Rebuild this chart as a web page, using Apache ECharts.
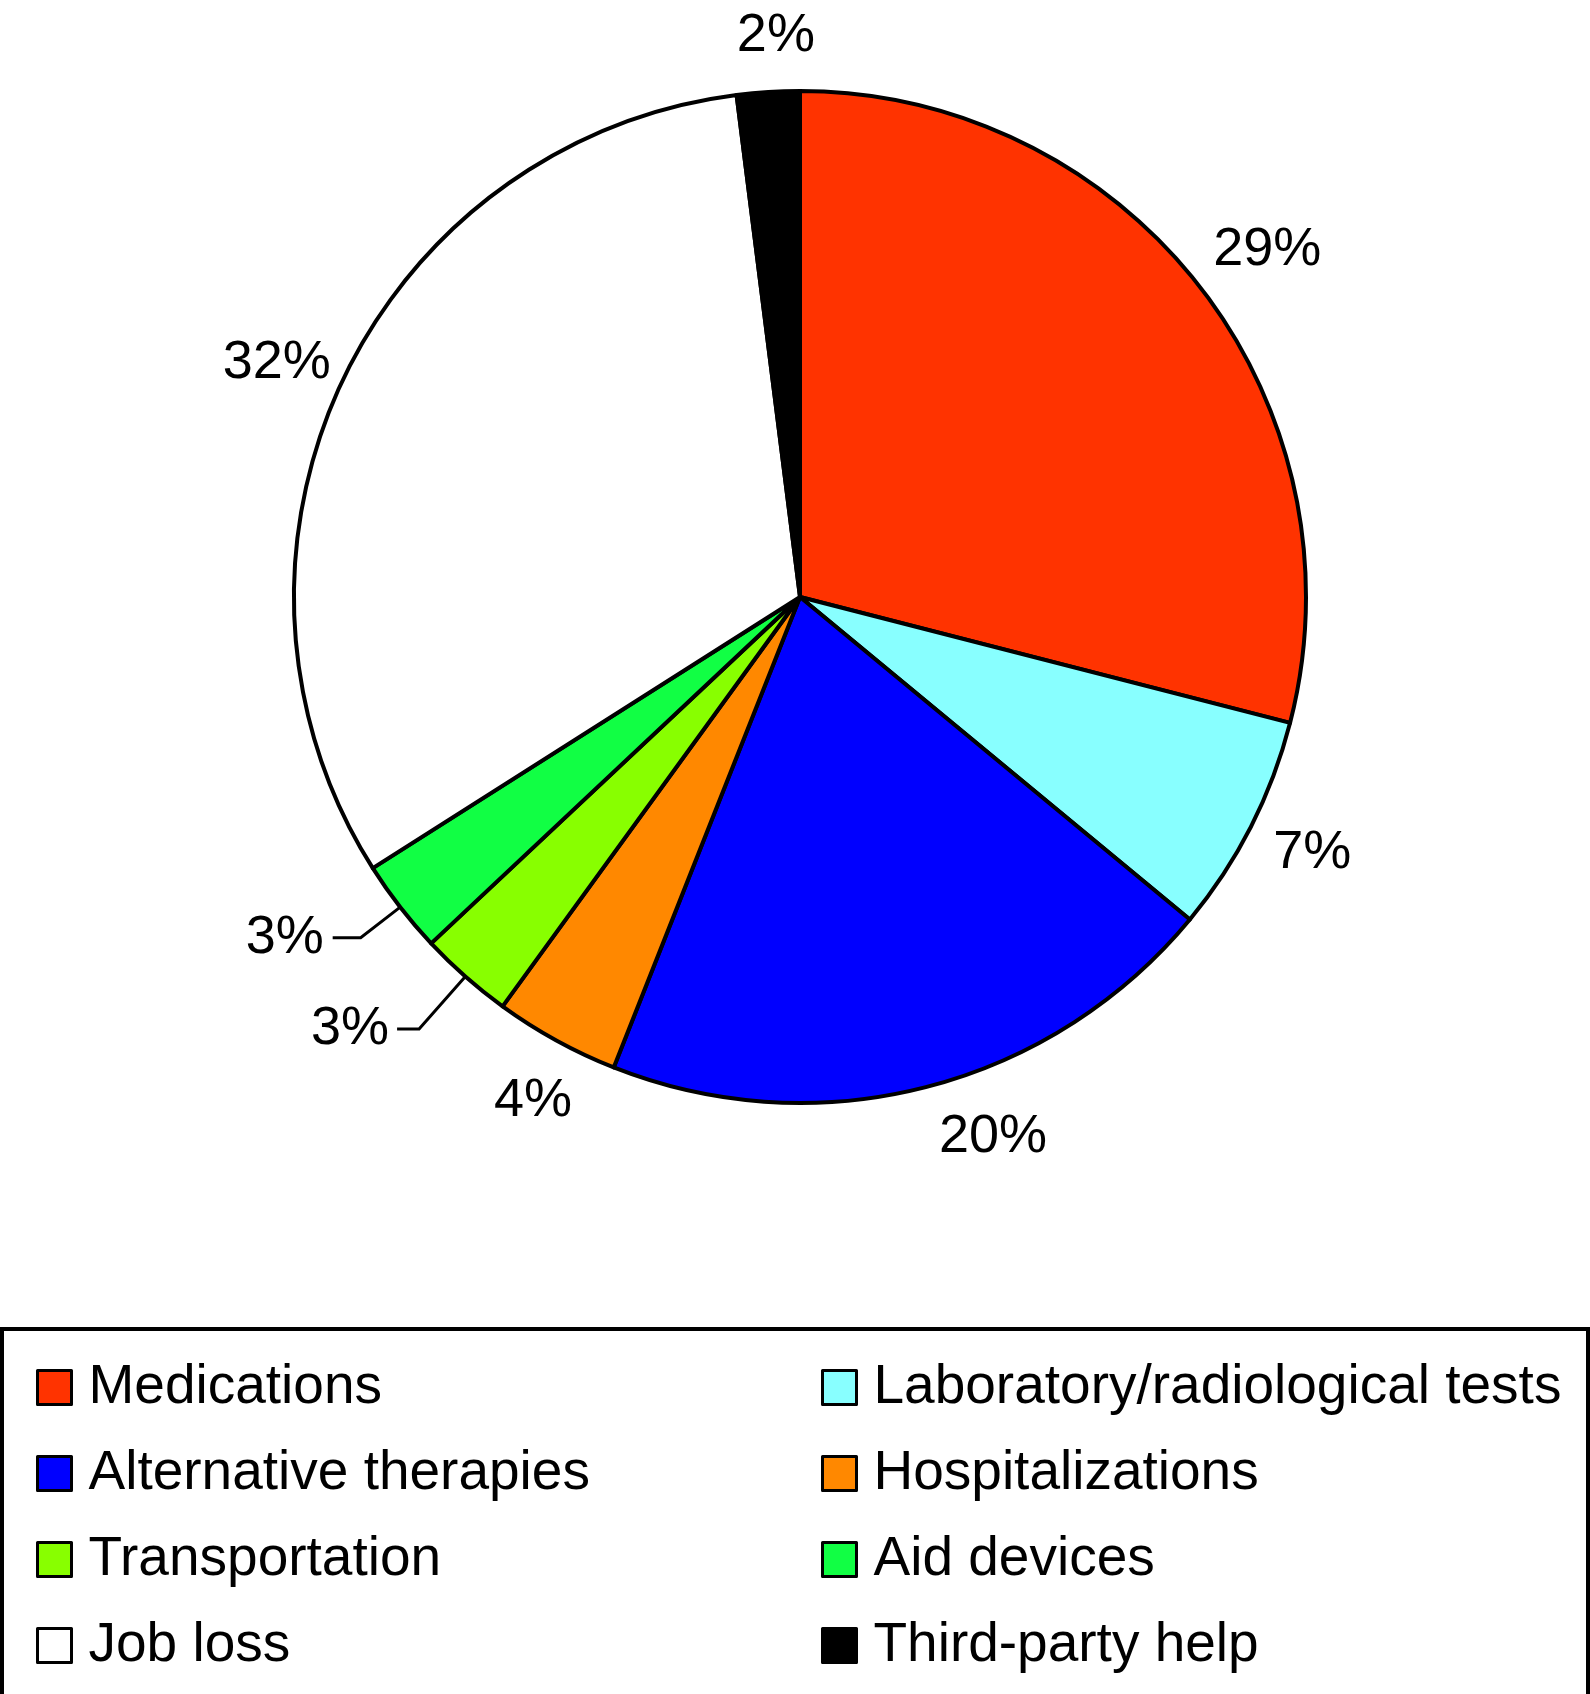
<!DOCTYPE html>
<html>
<head>
<meta charset="utf-8">
<script src="https://cdn.jsdelivr.net/npm/echarts@6/dist/echarts.min.js"></script>
<style>
html,body{margin:0;padding:0;background:#fff;}
#chart{width:1590px;height:1694px;}
</style>
</head>
<body>
<div id="chart"></div>
<script>
const categories = ['Medications','Laboratory/radiological tests','Alternative therapies','Hospitalizations','Transportation','Aid devices','Job loss','Third-party help'];
const values = [29, 7, 20, 4, 3, 3, 32, 2];
const colors = ['#FF3300','#88FFFF','#0000FF','#FF8800','#88FF00','#11FF44','#FFFFFF','#000000'];
const legendLeft = ['Medications','Alternative therapies','Transportation','Job loss'];
const legendRight = ['Laboratory/radiological tests','Hospitalizations','Aid devices','Third-party help'];

// label styling (layout tweaks, kept apart from data)
const leaderStyle = {
  'Transportation': {length: 70, length2: 22, gap: 8},
  'Aid devices': {length: 50, length2: 28, gap: 9}
};
const labelNudge = {
  'Medications': [13, 6],
  'Laboratory/radiological tests': [0, -5],
  'Alternative therapies': [50, -17],
  'Hospitalizations': [10, 0],
  'Job loss': [-3, 11],
  'Third-party help': [12, 13]
};

const FONT = '"Liberation Sans", Arial, Helvetica, sans-serif';

const mainData = categories.map((c, i) => {
  const d = {name: c, value: values[i], itemStyle: {color: colors[i]}};
  const ls = leaderStyle[c];
  if (ls) {
    d.label = {show: true, position: 'outside', distanceToLabelLine: ls.gap};
    d.labelLine = {show: true, length: ls.length, length2: ls.length2, lineStyle: {color: '#000', width: 3}};
  } else {
    d.label = {show: false};
    d.labelLine = {show: false};
  }
  return d;
});

const ringData = categories.map((c, i) => ({
  name: c + ' ',
  value: values[i],
  label: leaderStyle[c] ? {show: false} : {show: true, offset: labelNudge[c] || [0, 0]}
}));

const legendCommon = {
  orient: 'vertical',
  icon: 'rect',
  itemWidth: 34,
  itemHeight: 34,
  itemGap: 31,
  selectedMode: false,
  itemStyle: {borderColor: '#000', borderWidth: 3},
  textStyle: {fontSize: 55, lineHeight: 55, fontFamily: FONT, color: '#000', padding: [0, 0, 0, 12]}
};

const chart = echarts.init(document.getElementById('chart'), null, {renderer: 'canvas'});
chart.setOption({
  backgroundColor: '#fff',
  animation: false,
  textStyle: {fontFamily: FONT},
  legend: [
    Object.assign({}, legendCommon, {data: legendLeft, left: 31, top: 1355}),
    Object.assign({}, legendCommon, {data: legendRight, left: 816, top: 1355})
  ],
  graphic: [{
    type: 'rect',
    shape: {x: 2, y: 1329, width: 1586, height: 1363},
    style: {fill: 'none', stroke: '#000', lineWidth: 4},
    silent: true
  }],
  series: [
    {
      type: 'pie',
      center: [800, 597],
      radius: [0, 506],
      startAngle: 90,
      clockwise: true,
      avoidLabelOverlap: false,
      silent: true,
      itemStyle: {borderColor: '#000', borderWidth: 4},
      label: {fontSize: 54, fontFamily: FONT, color: '#000', formatter: '{c}%'},
      emphasis: {disabled: true},
      data: mainData
    },
    {
      type: 'pie',
      center: [800, 597],
      radius: [562, 582],
      startAngle: 90,
      clockwise: true,
      avoidLabelOverlap: false,
      silent: true,
      itemStyle: {color: 'rgba(0,0,0,0)', borderWidth: 0},
      label: {position: 'inside', fontSize: 54, fontFamily: FONT, color: '#000', formatter: '{c}%'},
      labelLine: {show: false},
      emphasis: {disabled: true},
      data: ringData
    }
  ]
});
</script>
</body>
</html>
